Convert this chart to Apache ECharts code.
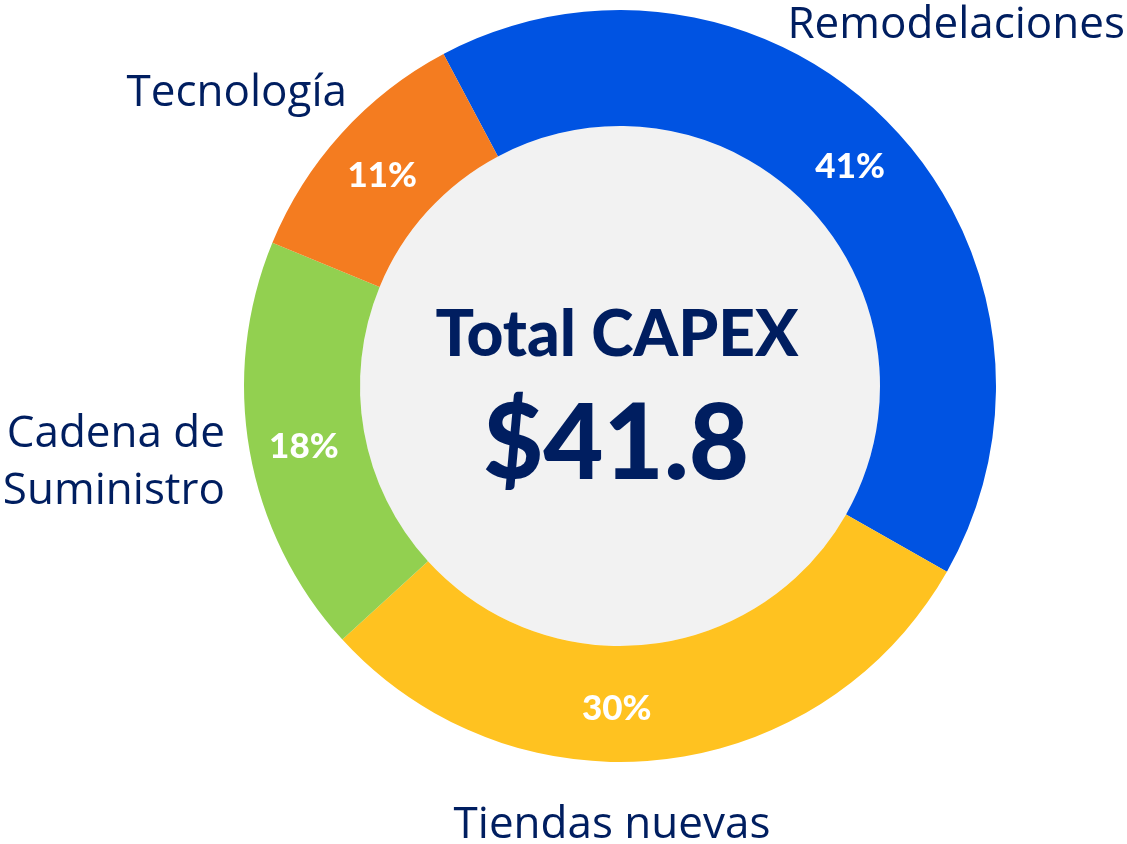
<!DOCTYPE html>
<html>
<head>
<meta charset="utf-8">
<script src="https://cdn.jsdelivr.net/npm/echarts@6/dist/echarts.min.js"></script>
<style>html,body{margin:0;padding:0;background:#fff;}#c{width:1127px;height:844px;}</style>
</head>
<body>
<div id="c"></div>
<script>
const categories = ['Remodelaciones', 'Tiendas nuevas', 'Cadena de\nSuministro', 'Tecnología'];
const values = [41, 30, 18, 11];
const colors = ['#0053e2', '#ffc220', '#92d050', '#f47c20'];
const totalTitle = 'Total CAPEX';
const totalValue = '$41.8';

const navy = '#001e60';
const cx = 620, cy = 386;
const chart = echarts.init(document.getElementById('c'));

const outerLabels = [
  { x: 1125, y: 25, align: 'right' },
  { x: 612, y: 825, align: 'center' },
  { x: 225, y: 463, align: 'right' },
  { x: 347, y: 93, align: 'right' }
];

chart.setOption({
  animation: false,
  series: [
    {
      type: 'pie', silent: true, center: [cx, cy], radius: [0, 260],
      label: { show: false }, labelLine: { show: false },
      data: [{ value: 1, itemStyle: { color: '#f2f2f2' } }]
    },
    {
      type: 'pie', center: [cx, cy], radius: [260, 376], startAngle: 118,
      clockwise: true, avoidLabelOverlap: false,
      label: {
        show: true, position: 'inside', color: '#fff',
        fontFamily: 'Lato', fontWeight: 900, fontSize: 35,
        formatter: p => p.value + '%'
      },
      labelLayout: p => (p.dataIndex === 1 ? { dx: -39, dy: 4 } : { dx: 0, dy: 5 }),
      itemStyle: { borderWidth: 0 },
      data: values.map((v, i) => ({ name: categories[i], value: v, itemStyle: { color: colors[i] } }))
    }
  ],
  graphic: [
    { type: 'text', z: 100, style: { text: totalValue, x: 616, y: 445, align: 'center', verticalAlign: 'middle', fill: navy, font: '900 104px Lato' } },
    { type: 'text', z: 100, style: { text: totalTitle, x: 617, y: 335, align: 'center', verticalAlign: 'middle', fill: navy, font: '900 64px Lato' } }
  ].concat(categories.map((c, i) => ({
    type: 'text', z: 100,
    style: {
      text: c, x: outerLabels[i].x, y: outerLabels[i].y,
      align: outerLabels[i].align, verticalAlign: 'middle',
      fill: navy, font: '44px "Open Sans"', lineHeight: 57
    }
  })))
});
</script>
</body>
</html>
